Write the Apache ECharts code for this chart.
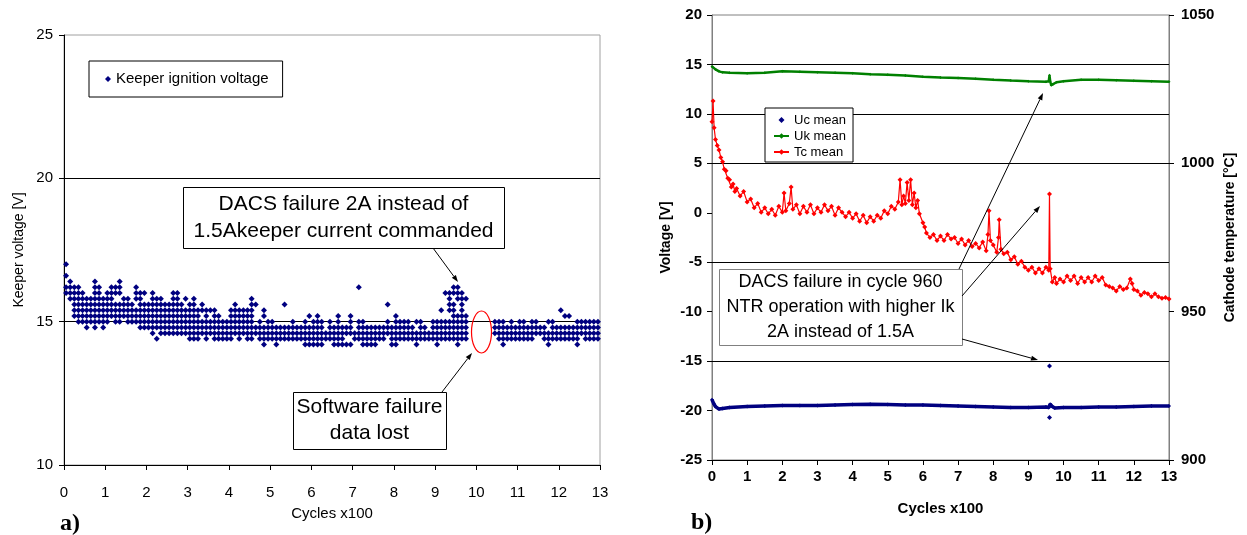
<!DOCTYPE html>
<html>
<head>
<meta charset="utf-8">
<title>Keeper ignition voltage / cathode temperature</title>
<script src="https://cdn.jsdelivr.net/npm/echarts@6/dist/echarts.min.js"></script>
<style>
  html, body { margin: 0; padding: 0; background: #fff; }
  #chart { width: 1247px; height: 535px; }
</style>
</head>
<body>
<div id="chart"></div>
<script>
// ---- a) keeper ignition voltage ----
// voltage levels of the logger (0.2 V steps), one letter each
const keeperCodes = 'abcdefghijklmno'
const keeperVolts = [14.2, 14.4, 14.6, 14.8, 15.0, 15.2, 15.4, 15.6, 15.8, 16.0, 16.2, 16.4, 16.6, 16.8, 17.0]
// levels seen in each 10-cycle bin (bin 0 = cycles 0..10)
const binWidth = 0.1 // x100 cycles
const keeperBins = [
  'jkmo', 'ijkl', 'fghijk', 'efghijk', 'efghij', 'defghi', 'efghi', 'defghijkl', 'efghijk', 'defghi',
  'efghij', 'fghijk', 'efghjk', 'efghjkl', 'fghi', 'efghi', 'efgh', 'efgijk', 'defghij', 'defghj',
  'defgh', 'cdefghij', 'bdefghi', 'cdefghi', 'cdefgh', 'cdefgh', 'cdefghij', 'cdefghij', 'cdefgh', 'cdefgi',
  'bcdefgh', 'bcdefghi', 'bcdefg', 'cdegh', 'bcdefg', 'cdeg', 'bcdefg', 'bcdef', 'bcde', 'bcde',
  'bcdefg', 'cdefgh', 'bcdefg', 'cdefg', 'bcdefg', 'bcdefghi', 'cdh', 'bcde', 'abcdfg', 'bcde',
  'bcde', 'abcd', 'bcd', 'bcdh', 'bcd', 'bcde', 'bcd', 'bcd', 'abcde', 'abcdf',
  'abcde', 'abcdef', 'abcde', 'bc', 'bcde', 'abcd', 'abcdef', 'abcd', 'acd', 'acdef',
  'bc', 'bcdek', 'abcde', 'abcd', 'abcd', 'abcd', 'bcd', 'bcd', 'cdeh', 'abcd',
  'abcdef', 'bcde', 'bcde', 'bcde', 'bcd', 'abce', 'bcde', 'bcd', 'bc', 'bcde',
  'abcde', 'bcdeg', 'bcdej', 'bcdeghij', 'bcdefghjk', 'abcdefijk', 'bcdefghij', 'bcdefi', '', '',
  '', '', '', '', 'cde', 'bcde', 'abcde', 'bcd', 'bcde', 'bcd',
  'bcde', 'bcde', 'bcd', 'bcde', 'cde', 'cd', 'bcd', 'abce', 'bcde', 'bcd',
  'bcdg', 'bcdf', 'bcdf', 'bcd', 'abcde', 'cde', 'bcde', 'bcde', 'bcde', 'bcde'
]
const gridA = [15, 20]

// ---- b) Uc / Uk mean voltage and Tc mean temperature ----
const ucMean = [
  [0, -18.9], [0.05, -19.3], [0.1, -19.6], [0.2, -19.85], [0.3, -19.8], [0.5, -19.7], [1, -19.6],
  [1.5, -19.55], [2, -19.5], [2.5, -19.5], [3, -19.5], [3.5, -19.45], [4, -19.4], [4.5, -19.35],
  [5, -19.4], [5.5, -19.45], [6, -19.45], [6.5, -19.5], [7, -19.55], [7.5, -19.6], [8, -19.65],
  [8.5, -19.7], [9, -19.7], [9.5, -19.65], [9.58, -19.7], [9.62, -19.35], [9.68, -19.6], [9.75, -19.75],
  [10, -19.7], [10.5, -19.7], [11, -19.65], [11.5, -19.65], [12, -19.6], [12.5, -19.55], [13, -19.55]
]
const ucOutliers = [[9.6, -15.5], [9.6, -20.7]]
const ukMean = [
  [0, 14.8], [0.1, 14.5], [0.2, 14.3], [0.3, 14.2], [0.5, 14.15], [1, 14.1], [1.5, 14.15], [2, 14.3],
  [2.5, 14.25], [3, 14.2], [3.5, 14.15], [4, 14.1], [4.5, 14.0], [5, 13.95], [5.5, 13.87], [6, 13.75],
  [6.5, 13.68], [7, 13.62], [7.5, 13.55], [8, 13.45], [8.5, 13.37], [9, 13.3], [9.5, 13.25], [9.58, 13.3],
  [9.6, 13.9], [9.62, 13.3], [9.65, 12.9], [9.7, 13.0], [9.8, 13.2], [10, 13.3], [10.5, 13.45],
  [11, 13.45], [11.5, 13.4], [12, 13.35], [12.5, 13.3], [13, 13.25]
]
const tcMean = [
  [0, 1014], [0.03, 1021], [0.06, 1012], [0.1, 1008], [0.15, 1006], [0.2, 1004.5], [0.25, 1002],
  [0.3, 1000.5], [0.35, 998], [0.4, 997.5], [0.45, 995], [0.5, 994.5], [0.55, 992], [0.6, 993],
  [0.65, 990.5], [0.7, 991.5], [0.8, 989], [0.9, 990.5], [1.0, 987], [1.1, 988], [1.2, 985],
  [1.3, 986.5], [1.4, 983.5], [1.5, 985], [1.6, 983], [1.7, 984.5], [1.8, 982.5], [1.9, 985.5],
  [2.0, 983.5], [2.05, 990], [2.1, 984], [2.2, 986.5], [2.25, 992], [2.3, 984.5], [2.4, 986],
  [2.5, 983], [2.6, 985.5], [2.7, 983.5], [2.8, 986], [2.9, 983], [3.0, 985], [3.1, 983.5],
  [3.2, 986], [3.3, 984], [3.4, 985.5], [3.5, 982.5], [3.6, 985], [3.7, 983.5], [3.8, 982],
  [3.9, 983.5], [4.0, 981.5], [4.1, 983], [4.2, 980.5], [4.3, 982.5], [4.4, 980], [4.5, 982],
  [4.6, 980.5], [4.7, 982.5], [4.8, 981.5], [4.9, 984], [5.0, 983], [5.1, 985.5], [5.2, 984.5],
  [5.3, 987], [5.35, 994.5], [5.4, 986], [5.45, 989], [5.5, 986.5], [5.55, 993.5], [5.6, 987.5],
  [5.65, 994.5], [5.7, 986], [5.75, 990], [5.8, 985], [5.85, 987.5], [5.9, 983], [6.0, 980],
  [6.05, 978.5], [6.1, 976.5], [6.2, 975], [6.3, 976], [6.4, 974], [6.5, 975.5], [6.6, 974],
  [6.7, 976], [6.8, 974.5], [6.9, 975], [7.0, 973], [7.1, 974.5], [7.2, 972.5], [7.3, 974],
  [7.4, 972], [7.5, 973], [7.6, 971.5], [7.7, 973.5], [7.8, 970.5], [7.85, 976], [7.88, 984],
  [7.92, 974], [8.0, 972.5], [8.1, 970], [8.15, 975], [8.17, 981], [8.22, 971], [8.3, 969.5],
  [8.4, 970], [8.5, 967.5], [8.6, 968.5], [8.7, 966], [8.8, 967], [8.9, 965], [9.0, 964],
  [9.1, 965], [9.2, 963], [9.3, 964.5], [9.4, 963], [9.5, 965], [9.58, 964], [9.6, 989.7],
  [9.62, 964.5], [9.68, 960], [9.75, 961.5], [9.8, 959.5], [9.9, 961], [10.0, 960], [10.1, 962],
  [10.2, 960.5], [10.3, 962], [10.4, 959.5], [10.5, 961.5], [10.6, 960], [10.7, 961.5], [10.8, 960],
  [10.9, 962], [11.0, 960.5], [11.1, 961.5], [11.2, 959], [11.3, 958.5], [11.4, 958], [11.5, 957],
  [11.6, 958.5], [11.7, 957.5], [11.8, 958], [11.9, 961], [11.95, 959.5], [12.0, 957.5], [12.1, 957],
  [12.2, 955.5], [12.3, 956.5], [12.4, 956], [12.5, 955], [12.6, 956], [12.7, 955], [12.8, 954.5],
  [12.9, 954.8], [13.0, 954.3]
]
const gridB = [15, 10, 5, -5, -15]

const sans = 'Liberation Sans, Arial, sans-serif'
const serif = 'Liberation Serif, Times New Roman, serif'

// scatter points: one per level seen in a bin, at the bin centre
const keeperPoints = []
keeperBins.forEach((codes, i) => {
  for (const c of codes) {
    keeperPoints.push([i * binWidth + binWidth / 2, keeperVolts[keeperCodes.indexOf(c)]])
  }
})

// annotation helpers (pixel layout)
function box (x, y, w, h, lines, size, lineH, stroke) {
  return [
    { type: 'rect', z: 100, shape: { x: x + 0.5, y: y + 0.5, width: w, height: h }, style: { fill: '#fff', stroke: stroke, lineWidth: 1 } },
    { type: 'text', z: 101, style: { text: lines.join('\n'), x: x + w / 2, y: y + h / 2, align: 'center', verticalAlign: 'middle', fontSize: size, lineHeight: lineH, fontFamily: sans, fill: '#000' } }
  ]
}
function arrow (x1, y1, x2, y2) {
  const ang = Math.atan2(y2 - y1, x2 - x1)
  const len = 7
  const half = 2.5
  const bx = x2 - len * Math.cos(ang)
  const by = y2 - len * Math.sin(ang)
  return [
    { type: 'line', z: 102, shape: { x1: x1, y1: y1, x2: bx, y2: by }, style: { stroke: '#000', lineWidth: 1 } },
    { type: 'polygon', z: 102, shape: { points: [[x2, y2], [bx - half * Math.sin(ang), by + half * Math.cos(ang)], [bx + half * Math.sin(ang), by - half * Math.cos(ang)]] }, style: { fill: '#000' } }
  ]
}
function gridMarks (values) {
  return {
    silent: true,
    symbol: 'none',
    z: 1,
    animation: false,
    label: { show: false },
    lineStyle: { color: '#000', width: 1, type: 'solid' },
    data: values.map(v => ({ yAxis: v }))
  }
}

// a small diamond in the middle of a 15x7 legend slot (the empty moves keep its box wide)
const smallDiamond = 'path://M0,3.5L0,3.5M15,3.5L15,3.5M7.5,0.5L10.5,3.5L7.5,6.5L4.5,3.5Z'

const chart = echarts.init(document.getElementById('chart'))

const labelA = { fontSize: 15, fontFamily: sans, color: '#000' }
const labelB = { fontSize: 15, fontFamily: sans, fontWeight: 'bold', color: '#000' }

const option = {
  animation: false,
  backgroundColor: '#fff',
  grid: [
    { left: 64, top: 35, width: 536, height: 430, show: true, borderColor: '#a0a0a0', borderWidth: 1 },
    { left: 712, top: 15, width: 457, height: 445, show: true, borderColor: '#808080', borderWidth: 1 }
  ],
  legend: [
    {
      data: [{ name: 'Keeper ignition voltage', icon: 'diamond' }],
      left: 89,
      top: 61,
      itemWidth: 6,
      itemHeight: 6,
      itemGap: 0,
      padding: [10, 14, 10, 16],
      borderColor: '#000',
      borderWidth: 1,
      backgroundColor: '#fff',
      textStyle: { fontSize: 15, fontFamily: sans, color: '#000', lineHeight: 16 },
      selectedMode: false
    },
    {
      data: [
        { name: 'Uc mean', icon: smallDiamond, itemStyle: { borderWidth: 0 } },
        'Uk mean',
        'Tc mean'
      ],
      orient: 'vertical',
      left: 765,
      top: 108,
      itemWidth: 15,
      itemHeight: 7,
      itemGap: 2,
      padding: [5, 7, 3, 8],
      borderColor: '#000',
      borderWidth: 1,
      backgroundColor: '#fff',
      textStyle: { fontSize: 13, fontFamily: sans, color: '#000', lineHeight: 14 },
      selectedMode: false
    }
  ],
  xAxis: [
    {
      gridIndex: 0,
      type: 'value',
      min: 0,
      max: 13,
      interval: 1,
      name: 'Cycles x100',
      nameLocation: 'middle',
      nameGap: 41,
      nameTextStyle: { fontSize: 15, fontFamily: sans, color: '#000' },
      axisLine: { show: true, onZero: false, lineStyle: { color: '#000' } },
      axisTick: { show: true, length: 5, lineStyle: { color: '#000' } },
      axisLabel: Object.assign({ margin: 20 }, labelA),
      splitLine: { show: false }
    },
    {
      gridIndex: 1,
      type: 'value',
      min: 0,
      max: 13,
      interval: 1,
      name: 'Cycles x100',
      nameLocation: 'middle',
      nameGap: 41,
      nameTextStyle: { fontSize: 15, fontFamily: sans, fontWeight: 'bold', color: '#000' },
      axisLine: { show: true, onZero: false, lineStyle: { color: '#000' } },
      axisTick: { show: true, length: 5, lineStyle: { color: '#000' } },
      axisLabel: Object.assign({ margin: 9 }, labelB),
      splitLine: { show: false }
    }
  ],
  yAxis: [
    {
      gridIndex: 0,
      type: 'value',
      min: 10,
      max: 25,
      interval: 5,
      name: 'Keeper voltage [V]',
      nameLocation: 'middle',
      nameGap: 38,
      nameTextStyle: { fontSize: 14, fontFamily: sans, color: '#000' },
      axisLine: { show: true, onZero: false, lineStyle: { color: '#000' } },
      axisTick: { show: true, length: 5, lineStyle: { color: '#000' } },
      axisLabel: Object.assign({ margin: 11 }, labelA),
      splitLine: { show: false }
    },
    {
      gridIndex: 1,
      type: 'value',
      min: -25,
      max: 20,
      interval: 5,
      name: 'Voltage [V]',
      nameLocation: 'middle',
      nameGap: 39,
      nameTextStyle: { fontSize: 14, fontFamily: sans, fontWeight: 'bold', color: '#000' },
      axisLine: { show: true, onZero: false, lineStyle: { color: '#808080' } },
      axisTick: { show: true, length: 5, lineStyle: { color: '#000' } },
      axisLabel: Object.assign({ margin: 10 }, labelB),
      splitLine: { show: false }
    },
    {
      gridIndex: 1,
      type: 'value',
      position: 'right',
      min: 900,
      max: 1050,
      interval: 50,
      name: 'Cathode temperature [°C]',
      nameLocation: 'middle',
      nameGap: 54,
      nameTextStyle: { fontSize: 14, fontFamily: sans, fontWeight: 'bold', color: '#000' },
      axisLine: { show: true, onZero: false, lineStyle: { color: '#808080' } },
      axisTick: { show: true, length: 5, lineStyle: { color: '#000' } },
      axisLabel: Object.assign({ margin: 12, formatter: v => String(v) }, labelB),
      splitLine: { show: false }
    }
  ],
  series: [
    {
      name: 'Keeper ignition voltage',
      type: 'scatter',
      xAxisIndex: 0,
      yAxisIndex: 0,
      z: 2,
      symbol: 'diamond',
      symbolSize: 6,
      itemStyle: { color: '#000080', opacity: 1 },
      data: keeperPoints,
      markLine: gridMarks(gridA)
    },
    {
      // outlier readings at the DACS failure
      name: 'Uc mean',
      type: 'scatter',
      xAxisIndex: 1,
      yAxisIndex: 1,
      z: 2,
      symbol: 'diamond',
      symbolSize: 5,
      itemStyle: { color: '#000080', opacity: 1 },
      data: ucOutliers
    },
    {
      name: 'Uc mean',
      type: 'line',
      xAxisIndex: 1,
      yAxisIndex: 1,
      z: 2,
      symbol: 'diamond',
      symbolSize: 4,
      showAllSymbol: true,
      lineStyle: { color: '#000080', width: 3.5 },
      itemStyle: { color: '#000080' },
      data: ucMean,
      markLine: gridMarks(gridB)
    },
    {
      name: 'Uk mean',
      type: 'line',
      xAxisIndex: 1,
      yAxisIndex: 1,
      z: 3,
      symbol: 'diamond',
      symbolSize: 3,
      showAllSymbol: true,
      lineStyle: { color: '#008000', width: 2.5 },
      itemStyle: { color: '#008000' },
      data: ukMean
    },
    {
      name: 'Tc mean',
      type: 'line',
      xAxisIndex: 1,
      yAxisIndex: 2,
      z: 3,
      symbol: 'diamond',
      symbolSize: 5,
      showAllSymbol: true,
      lineStyle: { color: '#ff0000', width: 1.2 },
      itemStyle: { color: '#ff0000' },
      data: tcMean
    }
  ],
  graphic: [
    ...box(183, 187, 321, 61, ['DACS failure 2A instead of', '1.5Akeeper current commanded'], 21, 27, '#000'),
    ...arrow(433, 248, 458, 282),
    ...box(293, 392, 153, 57, ['Software failure', 'data lost'], 21, 26, '#000'),
    ...arrow(442, 392, 472, 353),
    { type: 'ellipse', z: 102, shape: { cx: 481.5, cy: 332, rx: 10, ry: 21 }, style: { fill: 'none', stroke: '#ff0000', lineWidth: 1.2 } },
    ...box(719, 269, 243, 76, ['DACS failure in cycle 960', 'NTR operation with higher Ik', '2A instead of 1.5A'], 18, 25, '#808080'),
    ...arrow(959, 269, 1043, 93),
    ...arrow(962, 296, 1040, 206),
    ...arrow(962, 339, 1038, 360),
    { type: 'text', z: 101, style: { text: 'a)', x: 60, y: 524, verticalAlign: 'middle', fontSize: 24, fontWeight: 'bold', fontFamily: serif, fill: '#000' } },
    { type: 'text', z: 101, style: { text: 'b)', x: 691, y: 523, verticalAlign: 'middle', fontSize: 24, fontWeight: 'bold', fontFamily: serif, fill: '#000' } }
  ]
}

chart.setOption(option)
</script>
</body>
</html>
